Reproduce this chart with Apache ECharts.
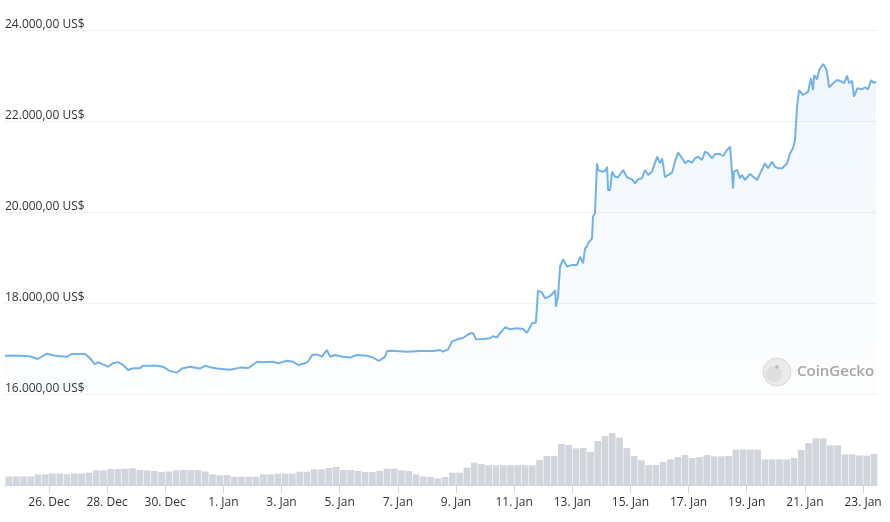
<!DOCTYPE html>
<html><head><meta charset="utf-8">
<script src="https://cdn.jsdelivr.net/npm/echarts@6/dist/echarts.min.js"></script>
<style>html,body{margin:0;padding:0;background:#fff}#c{width:890px;height:522px}</style>
</head><body><div id="c"></div>
<script>
// time unit: days since 26 Dec 00:00
const priceTimes = [-1.51,-1.17,-0.65,-0.38,-0.07,0.21,0.62,0.79,1.24,1.41,1.58,1.69,2.03,2.20,2.37,2.55,2.72,2.89,3.13,3.23,3.72,3.92,4.16,4.40,4.58,4.85,5.19,5.37,5.54,5.78,6.23,6.57,6.85,7.16,7.36,7.71,7.88,8.19,8.39,8.57,8.81,8.91,9.05,9.22,9.39,9.56,9.67,9.84,10.11,10.35,10.60,10.94,11.15,11.35,11.56,11.63,11.83,12.32,12.76,13.21,13.45,13.55,13.73,13.86,14.04,14.24,14.48,14.59,14.69,14.93,15.17,15.27,15.41,15.51,15.69,15.86,16.10,16.31,16.44,16.62,16.75,16.82,16.96,17.06,17.23,17.34,17.41,17.44,17.51,17.58,17.68,17.82,17.99,18.16,18.27,18.37,18.44,18.51,18.54,18.68,18.71,18.78,18.85,18.89,19.02,19.13,19.20,19.23,19.30,19.37,19.47,19.57,19.75,19.88,20.06,20.16,20.26,20.40,20.50,20.61,20.74,20.92,21.02,21.09,21.19,21.29,21.43,21.53,21.64,21.78,21.88,21.98,22.12,22.22,22.33,22.46,22.57,22.67,22.81,22.91,23.08,23.19,23.32,23.43,23.53,23.56,23.67,23.77,23.84,23.94,24.11,24.36,24.46,24.63,24.73,24.87,24.97,25.08,25.22,25.39,25.49,25.59,25.66,25.73,25.80,25.94,26.11,26.21,26.28,26.32,26.42,26.49,26.63,26.69,26.76,26.83,26.97,27.11,27.28,27.35,27.45,27.52,27.62,27.69,27.80,27.97,28.07,28.17,28.28,28.35,28.45];
const prices = [16842,16845,16830,16769,16886,16842,16820,16880,16880,16790,16653,16700,16600,16675,16700,16640,16527,16565,16565,16622,16622,16600,16505,16470,16560,16600,16560,16620,16590,16560,16535,16580,16570,16710,16700,16710,16675,16732,16710,16637,16675,16710,16857,16870,16820,16967,16820,16857,16820,16800,16857,16840,16800,16725,16820,16945,16952,16930,16945,16945,16967,16930,16980,17150,17202,17230,17334,17334,17202,17210,17224,17270,17245,17334,17466,17422,17444,17430,17348,17554,17570,18271,18226,18103,18150,18220,18280,17920,18140,18798,18960,18800,18835,18835,19018,18870,19202,19240,19312,19422,19897,19971,21070,20923,20886,20908,20996,20484,20484,20886,20776,20762,20923,20762,20718,20630,20718,20740,20923,20813,20886,21216,21070,21180,20762,20813,20864,21106,21304,21180,21070,21128,21084,21180,21216,21143,21326,21290,21180,21275,21275,21231,21363,21436,20520,20886,20923,20740,20813,20703,20835,20703,20850,21070,20960,21106,20996,20960,20960,21070,21290,21400,21582,22315,22681,22571,22644,22938,22681,23011,22916,23121,23253,23194,23084,22741,22828,22901,22864,22828,22996,22828,22886,22535,22718,22696,22741,22696,22901,22842,22864];

// 24h volume (billion US$), one bar every 6 hours
const volumeStart = -1.375;
const volumeStep = 0.25;
const volumes = [7.7,7.7,7.7,7.7,9.6,9.6,10.5,10.5,9.6,10.5,10.4,11.1,13.2,13.2,14.4,14.4,14.7,15.0,13.5,13.1,12.6,11.7,12.2,13.1,13.5,13.5,13.5,12.2,9.6,8.7,9.0,7.5,7.5,7.5,7.5,9.6,9.6,10.2,10.2,10.2,12.0,12.0,14.1,14.1,15.3,16.2,13.5,13.5,12.6,11.7,11.7,12.6,14.7,14.7,13.2,12.6,9.6,7.7,7.2,6.0,7.2,11.1,11.1,15.6,20.1,18.9,17.7,17.7,17.7,17.7,17.7,17.7,17.7,22.5,26.1,26.1,36.9,36.0,33.0,33.3,29.7,39.6,44.1,46.8,42.6,33.3,26.1,22.2,18.0,18.0,20.7,23.1,25.2,27.0,24.3,25.2,27.0,25.8,25.8,26.1,31.8,31.8,31.8,31.8,23.1,23.1,23.1,23.1,24.3,31.5,37.8,42.0,42.0,35.7,35.7,27.6,27.6,26.7,26.4,27.9];

const xTickValues = [0,2,4,6,8,10,12,14,16,18,20,22,24,26,28];
const xTickLabels = ['26. Dec','28. Dec','30. Dec','1. Jan','3. Jan','5. Jan','7. Jan','9. Jan','11. Jan','13. Jan','15. Jan','17. Jan','19. Jan','21. Jan','23. Jan'];
const yMin = 16000, yMax = 24000, yStep = 2000;

const FONT = '"Open Sans", "Noto Sans", sans-serif';
function fmtPrice(v) {
  return String(Math.round(v)).replace(/\B(?=(\d{3})+(?!\d))/g, '.') + ',00 US$';
}
const priceData = priceTimes.map((t, i) => [t, prices[i]]);
const volumeData = volumes.map((v, i) => [volumeStart + i * volumeStep, v]);

const chart = echarts.init(document.getElementById('c'), null, {renderer: 'canvas'});
chart.setOption({
  animation: false,
  backgroundColor: '#ffffff',
  grid: [
    {left: 5, right: 13, top: 30, height: 364},
    {left: 5, right: 13, top: 385, height: 100}
  ],
  xAxis: [
    {type: 'value', gridIndex: 0, min: -1.51, max: 28.48, show: false},
    {type: 'value', gridIndex: 1, min: -1.51, max: 28.48,
      axisLine: {show: true, lineStyle: {color: '#ccd6eb', width: 1}},
      axisTick: {show: true, customValues: xTickValues, length: 8, lineStyle: {color: '#ccd6eb'}},
      axisLabel: {customValues: xTickValues, formatter: v => xTickLabels[xTickValues.indexOf(v)],
        color: '#333333', fontSize: 12, fontFamily: FONT, margin: 12},
      splitLine: {show: false}}
  ],
  yAxis: [
    {type: 'value', gridIndex: 0, min: yMin, max: yMax, interval: yStep,
      axisLine: {show: false}, axisTick: {show: false},
      axisLabel: {inside: true, margin: 0, verticalAlign: 'bottom', lineHeight: 11, formatter: fmtPrice,
        color: '#333333', fontSize: 12, fontFamily: FONT},
      splitLine: {show: true, lineStyle: {color: '#eff1f5', width: 1}}},
    {type: 'value', gridIndex: 1, min: 0, max: 90, show: false, splitLine: {show: false}}
  ],
  series: [
    {type: 'bar', xAxisIndex: 1, yAxisIndex: 1, data: volumeData, barWidth: '92%',
      itemStyle: {color: '#d2d5dc'}, silent: true},
    {type: 'line', xAxisIndex: 0, yAxisIndex: 0, data: priceData, showSymbol: false, symbol: 'none',
      lineStyle: {color: '#72b2ec', width: 2}, z: 3,
      areaStyle: {origin: 'start', color: new echarts.graphic.LinearGradient(0, 0, 0, 1, [
        {offset: 0, color: 'rgba(114,178,236,0.15)'},
        {offset: 1, color: 'rgba(114,178,236,0.03)'}])}}
  ],
  graphic: [
    {type: 'circle', shape: {cx: 777, cy: 372, r: 14}, style: {fill: '#ebebeb', stroke: '#dadada', lineWidth: 1}, z: 10},
    {type: 'circle', shape: {cx: 774, cy: 374, r: 8}, style: {fill: '#dedede'}, z: 11},
    {type: 'circle', shape: {cx: 777, cy: 367, r: 1.8}, style: {fill: '#b8b8b8'}, z: 12},
    {type: 'text', style: {text: 'CoinGecko', x: 797, y: 372, fill: '#a6a6a6', font: '600 15px "Open Sans", sans-serif', verticalAlign: 'middle'}, z: 10}
  ]
});
</script></body></html>
